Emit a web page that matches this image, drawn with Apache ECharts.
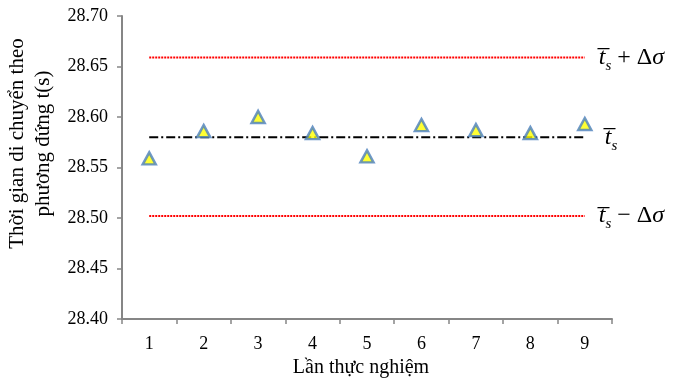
<!DOCTYPE html>
<html>
<head>
  <meta charset="utf-8">
  <style>
    html, body { margin: 0; padding: 0; width: 100%; height: 100%; overflow: hidden; background: #fff; }
  </style>
  <script src="https://cdn.jsdelivr.net/npm/echarts@6/dist/echarts.min.js"></script>
</head>
<body>
  <div id="container" style="width: 675px; height: 379px;"></div>
  <script>
    var categories = ['1', '2', '3', '4', '5', '6', '7', '8', '9'];
    var times = [28.559, 28.586, 28.600, 28.584, 28.561, 28.592, 28.587, 28.584, 28.593];
    var meanValue = 28.580;
    var upperValue = 28.659;
    var lowerValue = 28.502;
    var yMin = 28.40, yMax = 28.70, yStep = 0.05;

    var serif = '"Liberation Serif", "DejaVu Serif", serif';
    var axisColor = '#868686';

    var flat = function (v) { return categories.map(function () { return v; }); };

    var labelRich = {
      t: { fontFamily: serif, fontStyle: 'italic', fontSize: 24, color: '#000' },
      s: { fontFamily: serif, fontStyle: 'italic', fontSize: 15, color: '#000', padding: [17, 0, 0, 0] },
      op: { fontFamily: serif, fontSize: 24, color: '#000' },
      sig: { fontFamily: serif, fontStyle: 'italic', fontSize: 24, color: '#000' }
    };

    var myChart = echarts.init(document.getElementById('container'), null, { renderer: 'canvas' });

    var option = {
      animation: false,
      textStyle: { fontFamily: serif },
      grid: { left: 122, right: 63, top: 16, bottom: 60, containLabel: false, outerBoundsMode: 'none' },
      xAxis: {
        type: 'category',
        data: categories,
        boundaryGap: true,
        name: 'Lần thực nghiệm',
        nameLocation: 'middle',
        nameGap: 36,
        nameTextStyle: { fontFamily: serif, fontSize: 20, color: '#000', padding: [0, 12, 0, 0] },
        axisLine: { lineStyle: { color: axisColor, width: 2 } },
        axisTick: { show: true, length: 5, lineStyle: { color: axisColor, width: 1.5 } },
        axisLabel: { fontFamily: serif, fontSize: 18, color: '#000', margin: 16 },
        splitLine: { show: false }
      },
      yAxis: {
        type: 'value',
        min: yMin,
        max: yMax,
        interval: yStep,
        name: 'Thời gian di chuyển theo\nphương đứng t(s)',
        nameLocation: 'middle',
        nameGap: 64,
        nameTextStyle: { fontFamily: serif, fontSize: 21, color: '#000', lineHeight: 26, padding: [0, 0, 0, 48] },
        axisLine: { show: true, lineStyle: { color: axisColor, width: 2 } },
        axisTick: { show: true, length: 5, lineStyle: { color: axisColor, width: 1.5 } },
        axisLabel: {
          fontFamily: serif, fontSize: 18, color: '#000', margin: 14,
          formatter: function (v) { return v.toFixed(2); }
        },
        splitLine: { show: false }
      },
      series: [
        {
          name: 'upper',
          type: 'line',
          data: flat(upperValue),
          symbol: 'none',
          lineStyle: { color: '#ff0000', width: 2, type: [2, 1] },
          endLabel: {
            show: true, distance: 14,
            formatter: '{t|t\u0305}{s|s}{op| + Δ}{sig|σ}',
            rich: labelRich
          },
          silent: true
        },
        {
          name: 'mean',
          type: 'line',
          data: flat(meanValue),
          symbol: 'none',
          lineStyle: { color: '#000', width: 2, type: [9, 3, 2, 3] },
          endLabel: {
            show: true, distance: 20,
            formatter: '{t|t\u0305}{s|s}',
            rich: labelRich
          },
          silent: true
        },
        {
          name: 'lower',
          type: 'line',
          data: flat(lowerValue),
          symbol: 'none',
          lineStyle: { color: '#ff0000', width: 2, type: [2, 1] },
          endLabel: {
            show: true, distance: 14,
            formatter: '{t|t\u0305}{s|s}{op| − Δ}{sig|σ}',
            rich: labelRich
          },
          silent: true
        },
        {
          name: 'time',
          type: 'scatter',
          data: times,
          symbol: 'triangle',
          symbolSize: [13, 12],
          itemStyle: { color: '#ffff00', borderColor: '#4a7ebb', borderWidth: 2.5 },
          z: 5
        }
      ]
    };

    myChart.setOption(option);
    window.addEventListener('resize', myChart.resize);
  </script>
</body>
</html>
